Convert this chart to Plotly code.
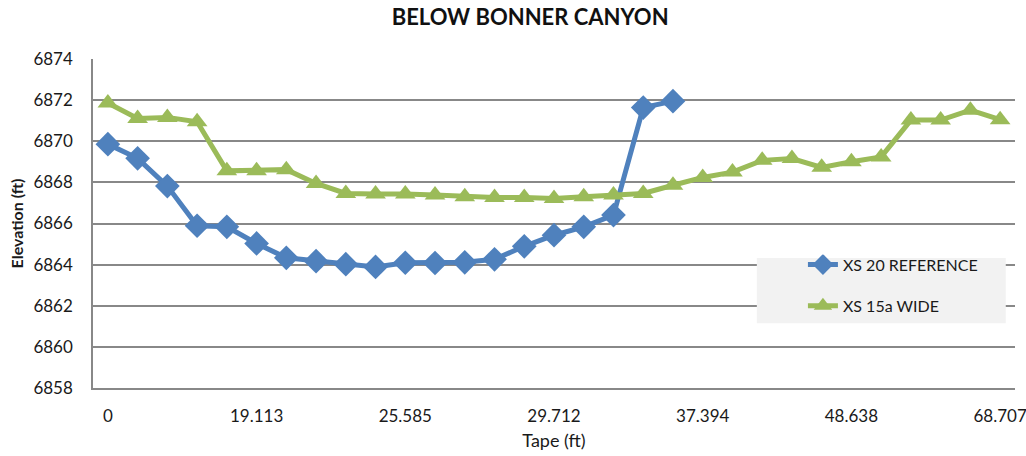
import plotly.graph_objects as go

# Tape stations shown on the category axis (every fifth station is labelled)
tick_labels = ["0", "19.113", "25.585", "29.712", "37.394", "48.638", "68.707"]
label_every = 5

# Surveyed bed elevations (ft), one value per station
xs20_reference = [
    6869.86, 6869.17, 6867.82, 6865.89, 6865.84, 6865.03, 6864.33, 6864.17,
    6864.02, 6863.89, 6864.09, 6864.08, 6864.11, 6864.26, 6864.89, 6865.43,
    6865.84, 6866.41, 6871.64, 6871.95,
]
xs15a_wide = [
    6871.86, 6871.11, 6871.16, 6870.95, 6868.56, 6868.57, 6868.62, 6867.95,
    6867.46, 6867.43, 6867.44, 6867.38, 6867.30, 6867.27, 6867.26, 6867.22,
    6867.30, 6867.38, 6867.46, 6867.86, 6868.24, 6868.50, 6869.07, 6869.16,
    6868.73, 6869.00, 6869.24, 6871.03, 6871.03, 6871.51, 6871.05,
]

BLUE = "#4F81BD"
GREEN = "#9BBB59"
GRID = "#888888"
TEXT = "#1a1a1a"
FONT = "Lato"

n_stations = len(xs15a_wide)
tick_positions = list(range(0, n_stations, label_every))

fig = go.Figure()
fig.add_trace(go.Scatter(
    x=list(range(len(xs20_reference))), y=xs20_reference,
    mode="lines+markers", name="XS 20 REFERENCE",
    line=dict(color=BLUE, width=5),
    marker=dict(symbol="diamond", size=19, color=BLUE),
    legend="legend",
))
fig.add_trace(go.Scatter(
    x=list(range(n_stations)), y=xs15a_wide,
    mode="lines+markers", name="XS 15a WIDE",
    line=dict(color=GREEN, width=5),
    marker=dict(symbol="triangle-up", size=18, color=GREEN),
    legend="legend2",
))

legend_font = dict(family=FONT, size=16, color=TEXT)
fig.update_layout(
    width=1026, height=456,
    margin=dict(l=93, r=11, t=59, b=68, autoexpand=False),
    paper_bgcolor="white", plot_bgcolor="white",
    font=dict(family=FONT, color=TEXT),
    title=dict(text="<b>BELOW BONNER CANYON</b>", x=0.5167, xanchor="center",
               y=0.963, yanchor="middle",
               font=dict(family=FONT, size=22, color="#111111")),
    showlegend=True,
    legend=dict(x=0.77, y=0.375, xanchor="left", yanchor="middle",
                bgcolor="rgba(0,0,0,0)", font=legend_font),
    legend2=dict(x=0.77, y=0.25, xanchor="left", yanchor="middle",
                 bgcolor="rgba(0,0,0,0)", font=legend_font),
    shapes=[dict(type="rect", xref="paper", yref="paper",
                 x0=0.72, x1=0.99, y0=0.197, y1=0.395,
                 fillcolor="#F2F2F2", line=dict(width=0), layer="above")],
)

fig.update_xaxes(
    range=[-0.5, n_stations - 0.5], automargin=False,
    tickmode="array", tickvals=tick_positions, ticktext=tick_labels,
    showgrid=False, zeroline=False,
    showline=True, linecolor=GRID, linewidth=1.5,
    ticks="", ticklen=0, ticklabelstandoff=12, ticklabeloverflow="allow",
    tickfont=dict(family=FONT, size=17, color=TEXT),
    title=dict(text="Tape (ft)", font=dict(family=FONT, size=18, color=TEXT),
               standoff=9),
)
fig.update_yaxes(
    range=[6858, 6874], dtick=2, tick0=6858, automargin=False,
    showgrid=True, gridcolor=GRID, gridwidth=1.5,
    zeroline=False, showline=True, linecolor=GRID, linewidth=1.5,
    ticks="", tickformat="d", ticklabelstandoff=15,
    tickfont=dict(family=FONT, size=17, color=TEXT),
    title=dict(text="<b>Elevation (ft)</b>",
               font=dict(family=FONT, size=16, color=TEXT), standoff=6),
)

fig.write_html("out.html")
